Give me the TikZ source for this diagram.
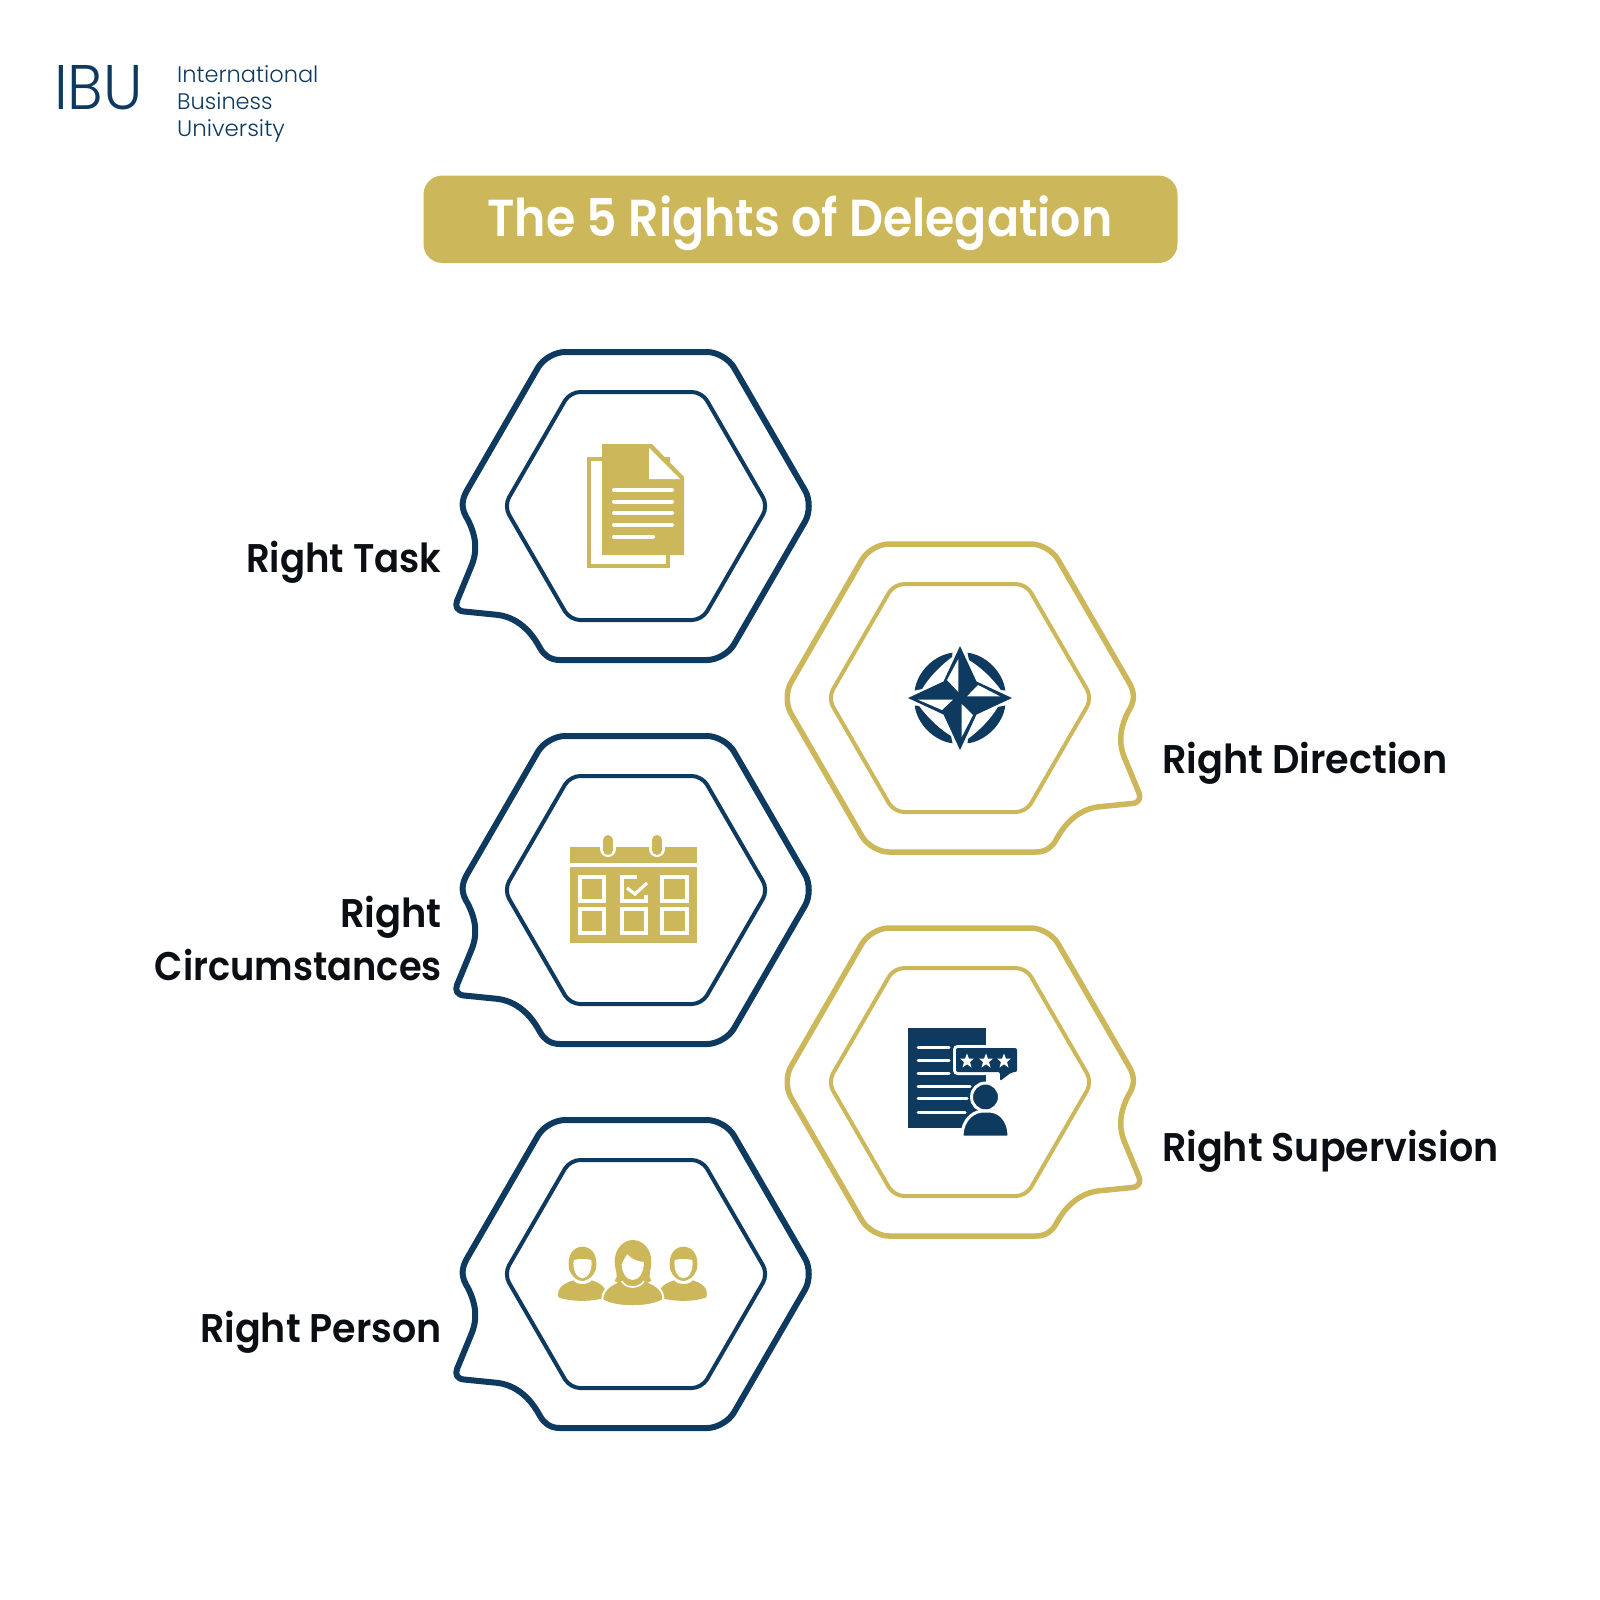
\documentclass[tikz,border=0pt]{standalone}
\usepackage{fontspec}
\setmainfont{Poppins}
\newfontfamily\popsemi{Poppins SemiBold}
\newfontfamily\poplight{Poppins Light}
\definecolor{ibunavy}{HTML}{0F3A5F}
\definecolor{ibugold}{HTML}{CCB85A}
\definecolor{ibuink}{HTML}{0B0E12}
\newcommand{\hs}[2]{\scalebox{#1}[1]{#2}}
\tikzset{
  lab/.style={text=ibuink,inner sep=0pt,font=\popsemi\fontsize{40}{53}\selectfont},
  logotext/.style={text=ibunavy,inner sep=0pt,font=\poplight\fontsize{22.5}{26}\selectfont,anchor=base west,text height=15pt,text depth=3pt}
}
\newcommand{\hexpair}[5]{% cx, cy, xscale, colour, outer width
\begin{scope}[shift={(#1,#2)},xscale=#3,draw=#4]
\draw[line width=#5,line join=round]
 (-169,-15.6) -- (-98,-138.4) .. controls (-93,-147) and (-81,-154) .. (-71,-154)
 -- (71,-154) .. controls (81,-154) and (93,-147) .. (98,-138.4)
 -- (169,-15.6) .. controls (174,-7) and (174,7) .. (169,15.6)
 -- (98,138.4) .. controls (93,147) and (81,154) .. (71,154)
 -- (-76,154) .. controls (-86,154) and (-92,149) .. (-96,142)
 .. controls (-104,127) and (-118,110) .. (-142,108.5)
 -- (-172,105.5) .. controls (-179,105) and (-181,100) .. (-179,95)
 -- (-165,61) .. controls (-158,45) and (-160,30) .. (-168,14)
 .. controls (-175,3) and (-175,-5) .. (-169,-15.6) -- cycle;
\draw[line width=4pt,rounded corners=10pt]
 (0,-114) -- (66,-114) -- (132,0) -- (66,114) -- (-66,114) -- (-132,0) -- (-66,-114) -- cycle;
\end{scope}}
\newcommand{\sideperson}{%
 \fill[ibugold] (88,150) .. controls (78,100) and (105,80) .. (127,80) .. controls (150,80) and (177,100) .. (167,150) .. controls (160,170) and (140,183) .. (127,183) .. controls (112,183) and (95,170) .. (88,150) -- cycle;
 \fill[white] (101,120) .. controls (115,116) and (140,116) .. (154,120) .. controls (158,148) and (145,175) .. (127,175) .. controls (110,175) and (97,148) .. (101,120) -- cycle;
 \fill[ibugold] (55,232) .. controls (48,200) and (80,187) .. (100,181) .. controls (110,196) and (145,196) .. (155,181) .. controls (175,187) and (205,200) .. (196,232) .. controls (160,246) and (95,246) .. (55,232) -- cycle;
}
\begin{document}
\begin{tikzpicture}[x=1pt,y=-1pt]
\useasboundingbox (0,0) rectangle (1600,1600);
\fill[white] (0,0) rectangle (1600,1600);

% logo
\node[text=ibunavy,inner sep=0pt,anchor=base west,font=\poplight\fontsize{63}{63}\selectfont] (ibu) at (54,110) {\hs{0.945}{IBU}};
\node[logotext] (l1) at (177,83) {International};
\node[logotext] (l2) at (177,110) {Business};
\node[logotext] (l3) at (177,136) {\hs{1.02}{University}};

% title
\fill[ibugold,rounded corners=19pt] (423.5,175.5) rectangle (1177.5,263);
\node[text=white,inner sep=0pt,anchor=base,font=\popsemi\fontsize{52}{52}\selectfont] (title) at (800,236.5) {\hs{0.912}{The 5 Rights of Delegation}};

% hexagons
\hexpair{636}{506}{1}{ibunavy}{6pt}
\hexpair{636}{890}{1}{ibunavy}{6pt}
\hexpair{636}{1274}{1}{ibunavy}{6pt}
\hexpair{960}{698}{-1}{ibugold}{5.5pt}
\hexpair{960}{1082}{-1}{ibugold}{5.5pt}

% labels
\node[lab,anchor=base east] (t1) at (441.5,572) {\hs{0.926}{Right Task}};
\node[lab,anchor=base west] (t2) at (1162,773.5) {\hs{0.955}{Right Direction}};
\node[lab,anchor=base east] (t3a) at (442,927) {\hs{0.96}{Right}};
\node[lab,anchor=base east] (t3b) at (442,980.5) {\hs{0.92}{Circumstances}};
\node[lab,anchor=base west] (t4) at (1162,1161.5) {\hs{0.95}{Right Supervision}};
\node[lab,anchor=base east] (t5) at (442,1342.5) {\hs{0.95}{Right Person}};

% document icon
\draw[ibugold,line width=3.6pt] (589,459) rectangle (668,566);
\fill[ibugold] (602,444) -- (652,444) -- (684,477) -- (684,555) -- (602,555) -- cycle;
\fill[white] (649,448) -- (649,479) -- (680,479) -- cycle;
\draw[white,line width=4pt,line cap=round]
 (614,490) -- (672,490) (614,501.5) -- (672,501.5) (614,513) -- (672,513) (614,525) -- (672,525) (614,536.5) -- (653,536.5);

% compass icon
\begin{scope}[shift={(960,698)}]
\foreach \ang in {0,90,180,270}{
 \fill[ibunavy,rotate=\ang] (7.5,-45.3) .. controls (26,-43) and (43,-26) .. (45.3,-7.5) -- (41,-8) .. controls (33,-19) and (21,-31) .. (9,-38) -- cycle;
}
\fill[ibunavy] (0,-52) -- (16.5,-16.5) -- (52,0) -- (16.5,16.5) -- (0,52) -- (-16.5,16.5) -- (-52,0) -- (-16.5,-16.5) -- cycle;
\fill[white] (-1.7,-39) -- (-1.7,-6) -- (-13,-18) -- cycle;
\fill[white] (40,-1.7) -- (7,-1.7) -- (18,-13) -- cycle;
\fill[white] (1.7,39) -- (1.7,6) -- (13,17) -- cycle;
\fill[white] (-42,1.7) -- (-7,1.7) -- (-18,12) -- cycle;
\end{scope}

% calendar icon
\fill[ibugold] (570,847) rectangle (697,943);
\draw[white,line width=3.5pt] (570,865) -- (697,865);
\foreach \rx in {608,657}{
 \fill[white] (\rx-8,838) rectangle (\rx+8,847);
 \draw[white,line width=16pt,line cap=round] (\rx,841) -- (\rx,849);
 \draw[ibugold,line width=10pt,line cap=round] (\rx,840) -- (\rx,850);
}
\draw[white,line width=3.2pt]
 (580,877) rectangle (604,901) (662,877) rectangle (687,901)
 (580,909) rectangle (604,933) (622,909) rectangle (646,933) (662,909) rectangle (687,933);
\draw[white,line width=3.2pt] (637,877) -- (622,877) -- (622,901) -- (646,901) -- (646,895);
\draw[white,line width=3.2pt] (627,888) -- (635,894) -- (647,883);

% supervision icon
\fill[ibunavy] (908,1028) rectangle (986,1128);
\draw[white,line width=3pt,line cap=round]
 (918,1047) -- (949,1047) (918,1060) -- (949,1060) (918,1073) -- (949,1073)
 (918,1086) -- (970,1086) (918,1098) -- (967,1098) (918,1112) -- (965,1112);
\draw[white,line width=6pt,rounded corners=2pt]
 (956,1048) -- (1017,1048) -- (1017,1072) -- (1012,1072) -- (1000,1081) -- (1000,1072) -- (956,1072) -- cycle;
\fill[ibunavy,rounded corners=2pt] (956,1048) -- (1017,1048) -- (1017,1072) -- (1012,1072) -- (1000,1081) -- (1000,1072) -- (956,1072) -- cycle;
\foreach \sx in {967,986,1004}{
 \fill[white] (\sx,1053.5) -- (\sx+1.9,1058.5) -- (\sx+7,1058.5) -- (\sx+3,1062) -- (\sx+4.5,1067.5) -- (\sx,1064.3) -- (\sx-4.5,1067.5) -- (\sx-3,1062) -- (\sx-7,1058.5) -- (\sx-1.9,1058.5) -- cycle;
}
\filldraw[fill=ibunavy,draw=white,line width=3pt] (985.5,1097) circle[radius=14];
\filldraw[fill=ibunavy,draw=white,line width=3pt] (962,1137) .. controls (962,1118) and (975,1110) .. (986,1111) .. controls (998,1110) and (1009,1118) .. (1009,1137) -- cycle;
\draw[white,line width=3.5pt] (958,1138.7) -- (1014,1138.7);

% people icon
\begin{scope}[shift={(540,1220)},scale=0.33333]
\sideperson
\begin{scope}[xshift=303pt]\sideperson\end{scope}
\filldraw[fill=ibugold,draw=white,line width=2pt] (187,240) .. controls (185,205) and (220,190) .. (245,180) .. controls (255,205) and (300,205) .. (310,180) .. controls (340,190) and (372,205) .. (370,240) .. controls (330,265) and (225,265) .. (187,240) -- cycle;
\fill[ibugold] (224,182) .. controls (238,170) and (224,150) .. (224,125) .. controls (224,85) and (252,60) .. (278,60) .. controls (307,60) and (334,85) .. (334,125) .. controls (334,150) and (322,170) .. (334,182) .. controls (300,205) and (255,205) .. (224,182) -- cycle;
\draw[white,line width=1.6pt] (245,183) .. controls (258,207) and (298,207) .. (312,183);
\fill[white] (245,133) .. controls (252,118) and (258,108) .. (262,103) .. controls (275,118) and (295,125) .. (312,126) .. controls (312,155) and (298,180) .. (278,180) .. controls (258,180) and (245,155) .. (245,133) -- cycle;
\end{scope}
\end{tikzpicture}
\end{document}
